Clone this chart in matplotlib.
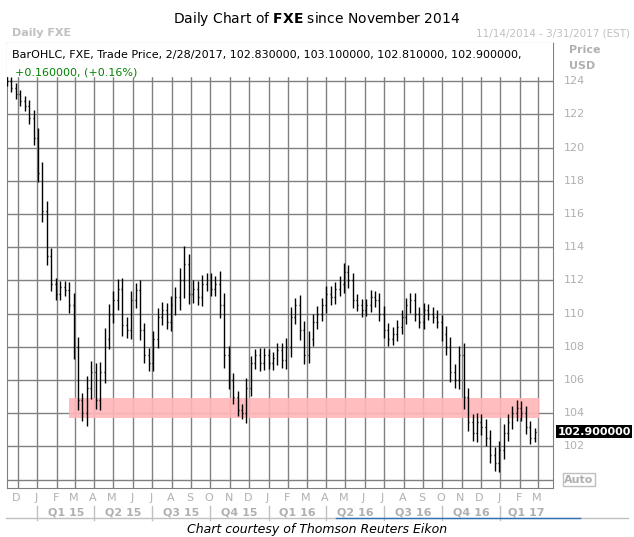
import matplotlib
matplotlib.use("Agg")
import matplotlib.pyplot as plt
import matplotlib.dates as mdates
import numpy as np
import pandas as pd

week_start = "2014-11-14"
closes = [124.0,123.6,123.2,122.8,122.5,121.8,120.6,118.5,116.2,113.5,
          111.8,111.2,111.6,111.4,110.5,108.0,104.8,104.0,105.5,106.5,
          104.8,106.5,108.5,110.0,110.8,111.5,109.3,109.0,110.8,111.4,
          109.0,107.5,107.0,108.5,109.8,110.2,109.5,110.5,111.0,112.0,
          113.0,111.2,111.5,111.0,111.8,112.0,111.5,111.8,110.5,107.5,
          106.0,105.0,104.2,104.0,105.5,107.0,107.5,107.0,107.5,107.0,
          107.3,107.8,107.2,108.0,109.8,110.5,109.0,107.5,108.5,109.5,
          110.0,110.5,111.2,111.0,111.5,111.8,112.5,112.0,110.8,110.5,
          110.2,110.5,111.0,110.8,110.0,109.0,108.5,108.8,109.2,109.8,
          110.5,110.8,110.0,109.5,110.2,110.0,109.8,109.5,108.8,108.0,
          106.5,106.0,107.5,105.0,103.5,102.8,103.5,103.2,102.5,101.5,
          101.0,101.8,102.8,103.5,104.0,104.3,104.0,103.2,102.5,102.9]
ranges = [1.0,0.8,1.0,0.9,1.0,1.2,1.5,2.0,2.2,2.0,
          1.5,1.2,1.3,1.2,1.6,2.5,2.0,1.5,2.5,2.2,
          1.8,2.0,2.2,2.0,1.8,2.0,2.2,1.6,1.8,1.5,
          2.0,1.5,1.5,1.6,1.8,1.6,1.5,1.8,2.0,2.5,
          3.5,2.0,1.8,1.6,1.8,1.5,1.4,1.5,2.5,2.5,
          1.8,1.5,1.2,1.2,2.0,1.5,1.2,1.5,1.4,1.2,
          1.3,1.4,1.5,1.8,2.0,1.5,2.0,1.8,1.5,1.5,
          1.5,1.4,1.5,1.5,1.4,1.5,1.8,1.5,1.5,1.2,
          1.3,1.2,1.4,1.3,1.5,1.5,1.4,1.3,1.4,1.5,
          1.4,1.5,1.4,1.3,1.4,1.2,1.3,1.3,1.4,1.6,
          2.0,1.6,1.8,2.5,1.8,1.6,1.8,1.6,1.6,1.6,
          1.5,1.8,1.8,1.6,1.5,1.6,1.5,1.4,1.2,0.8]
band_low, band_high = 103.7, 104.9
band_start, band_end = "2015-02-20", "2017-03-03"
last_price_label = "102.900000"
month_labels = ["D","J","F","M","A","M","J","J","A","S","O","N","D","J","F","M","A","M","J","J","A","S","O","N","D","J","F","M"]
quarter_labels = ["Q1 15","Q2 15","Q3 15","Q4 15","Q1 16","Q2 16","Q3 16","Q4 16","Q1 17"]
y_ticks = [102,104,106,108,110,112,114,116,118,120,122,124]

dates = pd.date_range(week_start, periods=len(closes), freq="7D")
fig = plt.figure(figsize=(6.34, 5.37), dpi=100)
ax = fig.add_axes([7/634, 1-488/537, 546/634, 445/537])
x = mdates.date2num(dates)
c = np.array(closes); r = np.array(ranges)
opens = np.concatenate([[c[0]], c[:-1]])
hi = np.maximum(c, opens) + r * 0.3
lo = np.minimum(c, opens) - r * 0.3
ax.vlines(x, lo, hi, color="black", lw=1.0, zorder=3)
ax.hlines(opens, x - 1.5, x, color="black", lw=1, zorder=3)
ax.hlines(c, x, x + 1.5, color="black", lw=1, zorder=3)
ax.fill_between([mdates.datestr2num(band_start), mdates.datestr2num(band_end)], band_low, band_high,
                color="#ffb6b9", alpha=0.9, lw=0, zorder=2)
xmin = mdates.datestr2num("2014-11-14"); xmax = mdates.datestr2num("2017-03-25")
ax.set_xlim(xmin, xmax)
ax.set_ylim(99.5, 126.3)
months = pd.date_range("2014-12-01", "2017-03-01", freq="MS")
for m in months:
    ax.axvline(mdates.date2num(m), color="#808080", lw=1, zorder=1)
for yv in y_ticks + [100]:
    ax.axhline(yv, color="#808080", lw=1, zorder=1)
ax.set_xticks([]); ax.set_yticks([])
for s in ax.spines.values():
    s.set_color("#808080")
ax.axhspan(124.3, 126.3, color="white", zorder=4)
ax.text(0.01, 0.985, "BarOHLC, FXE, Trade Price, 2/28/2017, 102.830000, 103.100000, 102.810000, 102.900000,",
        transform=ax.transAxes, fontsize=8, va="top", zorder=5)
ax.text(0.015, 0.945, "+0.160000, (+0.16%)", transform=ax.transAxes, fontsize=8, va="top",
        color="green", zorder=5)
for yv in y_ticks:
    ax.text(1.02, yv, str(yv), transform=ax.get_yaxis_transform(), fontsize=8, color="#b0b0b0", va="center")
ax.text(1.008, 102.9, last_price_label, transform=ax.get_yaxis_transform(), fontsize=8, weight="bold",
        color="white", va="center", bbox=dict(facecolor="black", edgecolor="none", pad=1))
ax.text(1.02, 100, "Auto", transform=ax.get_yaxis_transform(), fontsize=8, weight="bold", color="#b0b0b0",
        va="center", bbox=dict(facecolor="white", edgecolor="#c0c0c0", pad=1))
ax.text(1.03, 0.984, "Price", transform=ax.transAxes, fontsize=8, weight="bold", color="#b0b0b0", va="center")
ax.text(1.03, 0.948, "USD", transform=ax.transAxes, fontsize=8, weight="bold", color="#b0b0b0", va="center")
trans = ax.get_xaxis_transform()
for m, lab in zip(months, month_labels):
    ax.text(mdates.date2num(m) - 2, -0.022, lab, transform=trans, fontsize=8, color="#b0b0b0", ha="center", va="center")
qs = pd.date_range("2015-01-01", "2017-04-01", freq="QS")
for i, lab in enumerate(quarter_labels):
    mid = (mdates.date2num(qs[i]) + mdates.date2num(qs[i+1])) / 2
    ax.text(min(mid, mdates.datestr2num("2017-02-10")), -0.056, lab, transform=trans, fontsize=8, weight="bold",
            color="#b0b0b0", ha="center", va="center")
    ax.plot([mdates.date2num(qs[i])]*2, [-0.04, -0.072], transform=trans, color="#c0c0c0", lw=1, clip_on=False)
fig.text(0.5, 0.965, "Daily Chart of $\\bf{FXE}$ since November 2014", ha="center", va="center", fontsize=10)
fig.text(12/634, 1-33/537, "Daily FXE", fontsize=8, weight="bold", color="#c0c0c0", va="center")
fig.text(630/634, 1-33/537, "11/14/2014 - 3/31/2017 (EST)", fontsize=7.5, color="#c0c0c0", va="center", ha="right")
fig.add_artist(plt.Line2D([0.01, 0.99], [1-518/537]*2, color="#c0c0c0", lw=1))
fig.add_artist(plt.Line2D([0.53, 0.915], [1-518/537]*2, color="#3070b0", lw=1))
fig.text(0.5, 1-529/537, "Chart courtesy of Thomson Reuters Eikon", ha="center", va="center", fontsize=9, style="italic")
fig.savefig("out.png", dpi=100)
